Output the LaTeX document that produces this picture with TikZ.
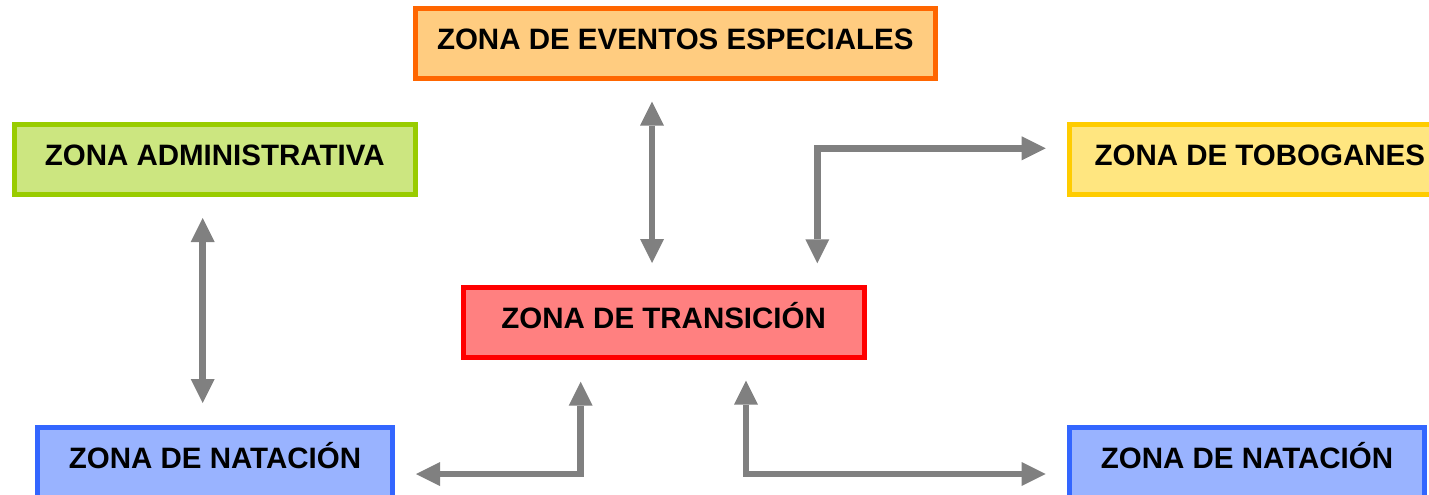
\documentclass[tikz,border=0pt]{standalone}
\usepackage{fontspec}
\setmainfont{Liberation Sans}
\usetikzlibrary{arrows.meta}
\definecolor{evB}{HTML}{FF6600}\definecolor{evF}{HTML}{FFCC80}
\definecolor{adB}{HTML}{99CC00}\definecolor{adF}{HTML}{CCE680}
\definecolor{toB}{HTML}{FFCC00}\definecolor{toF}{HTML}{FFE680}
\definecolor{trB}{HTML}{FF0000}\definecolor{trF}{HTML}{FF8080}
\definecolor{naB}{HTML}{3366FF}\definecolor{naF}{HTML}{99B3FF}
\definecolor{arrG}{HTML}{808080}
\tikzset{
  zone/.style={draw, line width=5pt, inner sep=0pt, minimum height=70pt,
    font=\fontsize{29.5}{30}\selectfont\bfseries, text height=21.1pt, text depth=10pt},
  conn/.style={draw=arrG, line width=6.8pt, line join=miter,
    {Triangle[length=24pt, width=24pt, line width=0pt]}-{Triangle[length=24pt, width=24pt, line width=0pt]}}
}
\begin{document}
\begin{tikzpicture}[x=1pt,y=-1pt]
\useasboundingbox (0,0) rectangle (1429,495);
\clip (0,0) rectangle (1429,495);
\node[zone, draw=evB, fill=evF, minimum width=519.5pt] (ev) at (675.25,43.5) {ZONA DE EVENTOS ESPECIALES};
\node[zone, draw=adB, fill=adF, minimum width=401pt] (adm) at (214.7,159.8) {ZONA ADMINISTRATIVA};
\node[zone, draw=toB, fill=toF, minimum width=380pt] (tob) at (1259.8,159.5) {ZONA DE TOBOGANES};
\node[zone, draw=trB, fill=trF, minimum width=401pt] (tra) at (663.7,322.5) {ZONA DE TRANSICIÓN};
\node[zone, draw=naB, fill=naF, minimum width=355pt] (nat1) at (215,462.5) {ZONA DE NATACIÓN};
\node[zone, draw=naB, fill=naF, minimum width=355pt] (nat2) at (1247,462.5) {ZONA DE NATACIÓN};
% connectors
\draw[conn] ([xshift=-23.25pt,yshift=-20.7pt]ev.south) -- ([xshift=-11.7pt,yshift=22pt]tra.north);
\draw[conn] ([xshift=-12pt,yshift=-20.7pt]adm.south) -- ([xshift=-12.3pt,yshift=22pt]nat1.north);
\draw[conn] ([xshift=153.6pt,yshift=21.7pt]tra.north) |- ([xshift=-21.6pt,yshift=11.2pt]tob.west);
\draw[conn] ([xshift=21pt,yshift=-11.5pt]nat1.east) -| ([xshift=-83pt,yshift=-21.7pt]tra.south);
\draw[conn] ([xshift=82.3pt,yshift=-20.7pt]tra.south) |- ([xshift=-21.3pt,yshift=-11.5pt]nat2.west);
\end{tikzpicture}
\end{document}
